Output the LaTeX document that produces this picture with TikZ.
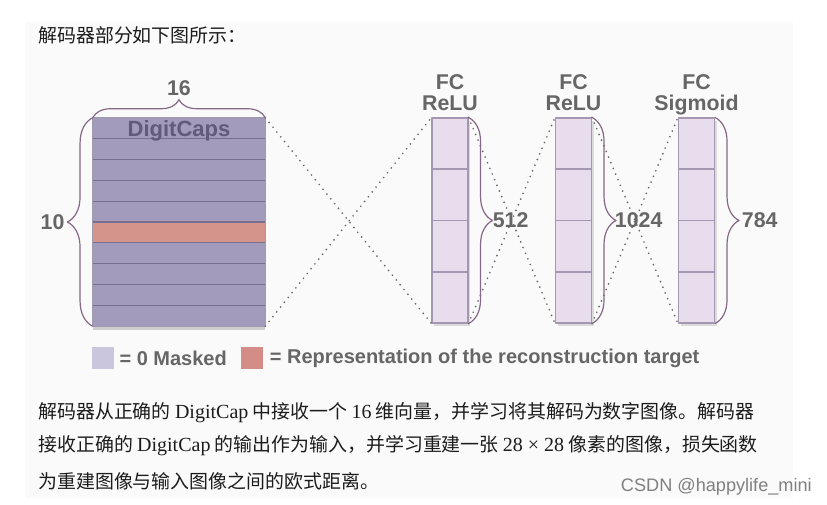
\documentclass[tikz,border=0pt]{standalone}
\usepackage{fontspec}
\setmainfont{Liberation Serif}
\setsansfont{Liberation Sans}
\newfontfamily\cjk{Noto Sans CJK SC}
\newcommand\westtxt[1]{{\rmfamily\fontsize{15}{16}\selectfont #1}}
\usetikzlibrary{calc,positioning,shadows,decorations.pathreplacing}

\definecolor{panel}{RGB}{250,250,250}
\definecolor{capfill}{RGB}{163,155,187}
\definecolor{caprule}{RGB}{120,110,142}
\definecolor{captext}{RGB}{98,90,122}
\definecolor{targetfill}{RGB}{212,148,140}
\definecolor{fcfill}{RGB}{231,221,236}
\definecolor{fcrule}{RGB}{165,150,178}
\definecolor{bracecol}{RGB}{132,104,134}
\definecolor{labelgray}{RGB}{102,102,102}
\definecolor{maskfill}{RGB}{201,198,222}
\definecolor{keyred}{RGB}{212,140,135}
\definecolor{bodytext}{RGB}{28,28,28}

\begin{document}
\begin{tikzpicture}[x=0.75pt, y=-0.75pt, line join=round,
  lbl/.style={font=\sffamily\bfseries\fontsize{16}{16}\selectfont, text=labelgray, inner sep=1pt},
  head/.style={lbl, align=center, text depth=0pt},
  layer/.style={draw=fcrule, fill=fcfill, line width=0.8pt, minimum width=27pt,
    minimum height=153.75pt, inner sep=0pt,
    drop shadow={opacity=0.25, shadow xshift=1.5pt, shadow yshift=-2pt}},
  brc/.style={decorate, decoration={brace, amplitude=#1}, draw=bracecol, line width=0.9pt},
  link/.style={draw=gray!80!black, line width=1.4pt, dash pattern=on 0pt off 4.6pt, line cap=round},
  swatch/.style={minimum size=16pt, inner sep=0pt},
  key/.style={font=\sffamily\bfseries\fontsize{15}{15}\selectfont, text=labelgray, inner sep=0pt},
  cn/.style={font=\cjk\fontsize{14.2}{16}\selectfont, text=bodytext, anchor=west, inner sep=0pt}]
  \useasboundingbox (0,0) rectangle (827,505);
  \fill[panel] (25,22) rectangle (793,498);

  % heading
  \node[cn] (intro) at (38,35) {解码器部分如下图所示：};

  % DigitCaps block, 10 rows of 16
  \node[fill=capfill, minimum width=129pt, minimum height=156pt, inner sep=0pt,
    drop shadow={opacity=0.35, shadow xshift=0pt, shadow yshift=-3pt}] (dc) at (179,222) {};
  \fill[targetfill] ($(dc.north west)!0.5!(dc.south west)$) rectangle ($(dc.north east)!0.6!(dc.south east)$);
  \foreach \k in {1,...,9}
    \draw[caprule, line width=0.8pt] ($(dc.north west)!\k/10!(dc.south west)$) -- ($(dc.north east)!\k/10!(dc.south east)$);
  \draw[caprule!70, line width=0.6pt] (dc.north west) rectangle (dc.south east);
  \node[font=\sffamily\bfseries\fontsize{16.5}{16.5}\selectfont, text=captext, inner sep=0pt]
    (dctitle) at ($(dc.north)!0.065!(dc.south)$) {DigitCaps};

  % fully connected layers
  \node[layer] (fc1) at (450,220.5) {};
  \node[layer] (fc2) at (573.5,220.5) {};
  \node[layer] (fc3) at (696.5,220.5) {};
  \foreach \c in {fc1,fc2,fc3}
    \foreach \k in {1,2,3}
      \draw[fcrule, line width=0.8pt] ($(\c.north west)!\k/4!(\c.south west)$) -- ($(\c.north east)!\k/4!(\c.south east)$);
  \node[head, above=4pt of fc1] (h1) {FC\\ReLU};
  \node[head, above=4pt of fc2] (h2) {FC\\ReLU};
  \node[head, above=4pt of fc3] (h3) {FC\\Sigmoid};

  % dotted full connections
  \foreach \a/\b in {dc/fc1, fc1/fc2, fc2/fc3} {
    \draw[link] (\a.north east) -- (\b.south west);
    \draw[link] (\a.south east) -- (\b.north west);
  }

  % size braces
  \draw[brc=13.5pt] (dc.north west) -- (dc.north east);
  \node[lbl, above=15pt of dc.north] (n16) {16};
  \draw[brc=19pt] (dc.south west) -- (dc.north west);
  \node[lbl, left=20pt of dc.west] (n10) {10};
  \draw[brc=18pt] (fc1.north east) -- (fc1.south east);
  \node[lbl, anchor=west, right=17pt of fc1.east] (n512) {512};
  \draw[brc=18pt] (fc2.north east) -- (fc2.south east);
  \node[lbl, anchor=west, right=16pt of fc2.east] (n1024) {1024};
  \draw[brc=18pt] (fc3.north east) -- (fc3.south east);
  \node[lbl, anchor=west, right=19pt of fc3.east] (n784) {784};

  % legend
  \node[swatch, fill=maskfill] (kmask) at (103,358) {};
  \node[key, right=4pt of kmask] (tmask) {= 0 Masked};
  \node[swatch, fill=keyred] (ktarget) at (252,358) {};
  \node[key, right=5pt of ktarget] (ttarget) {= Representation of the reconstruction target};

  % explanation below
  \node[cn] (line1) at (38,413) {解码器从正确的 \westtxt{DigitCap} 中接收一个 \westtxt{16} 维向量，并学习将其解码为数字图像。解码器};
  \node[cn] (line2) at (38,446) {接收正确的 \westtxt{DigitCap} 的输出作为输入，并学习重建一张 \westtxt{28 × 28} 像素的图像，损失函数};
  \node[cn] (line3) at (38,481) {为重建图像与输入图像之间的欧式距离。};
  \node[font=\sffamily\fontsize{13.6}{14}\selectfont, text=gray, anchor=east, inner sep=0pt] (mark) at (812,487) {CSDN @happylife\_mini};
\end{tikzpicture}
\end{document}
